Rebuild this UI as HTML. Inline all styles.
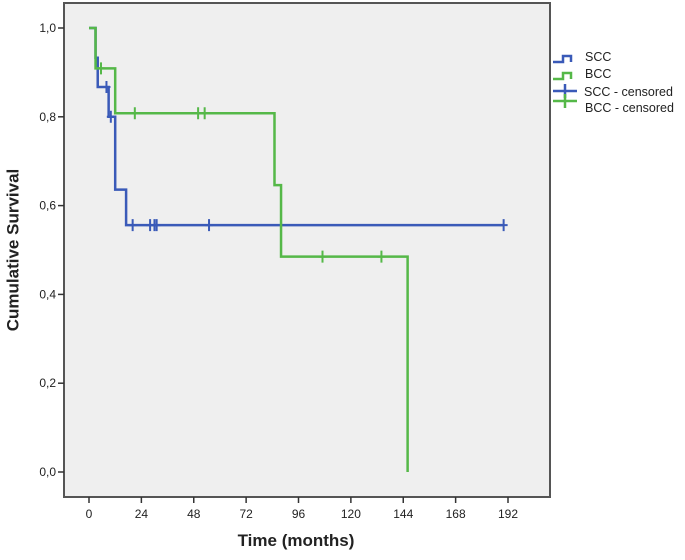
<!DOCTYPE html>
<html><head><meta charset="utf-8"><style>
body{margin:0;background:#fff;}
svg text{font-family:"Liberation Sans",sans-serif;}
</style></head><body>
<svg id="chart" width="685" height="555">
<rect x="64" y="3" width="486" height="494" fill="#efefef" stroke="#555" stroke-width="2"/>
<g id="axes"></g>
<g id="series"></g>
<text x="14" y="250" transform="rotate(-90 14 250)" text-anchor="middle" dominant-baseline="middle" font-size="17" font-weight="bold" fill="#222">Cumulative Survival</text>
<text x="296" y="546" text-anchor="middle" font-size="17" font-weight="bold" fill="#222">Time (months)</text>
<g>
<g><path d="M553,62 h10 v-6 h8 v6" fill="none" stroke="#3a5ab8" stroke-width="2.5"/><text x="585" y="61" font-size="12.5" fill="#222">SCC</text></g>
<g><path d="M553,79 h10 v-6 h8 v6" fill="none" stroke="#55b848" stroke-width="2.5"/><text x="585" y="78" font-size="12.5" fill="#222">BCC</text></g>
<g><path d="M553,91 h24 M565,84 v14" stroke="#3a5ab8" stroke-width="2.5"/><text x="584" y="96" font-size="12.5" fill="#222">SCC - censored</text></g>
<g><path d="M553,101 h24 M565,94 v14" stroke="#55b848" stroke-width="2.5"/><text x="585" y="112" font-size="12.5" fill="#222">BCC - censored</text></g>
</g>
</svg>
<script>
const xTicks=[0,24,48,72,96,120,144,168,192];
const yTicks=[0,0.2,0.4,0.6,0.8,1.0];
const sccTimes=[0,3,4,9,12,17,190];
const sccSurv=[1.0,0.933,0.867,0.8,0.636,0.556,0.556];
const sccCensorT=[8,10,20,28,30,31,55,190];
const sccCensorS=[0.867,0.8,0.556,0.556,0.556,0.556,0.556,0.556];
const bccTimes=[0,3,12,85,88,146];
const bccSurv=[1.0,0.909,0.808,0.646,0.485,0.0];
const bccCensorT=[5.5,21,50,53,107,134];
const bccCensorS=[0.909,0.808,0.808,0.808,0.485,0.485];
const X=t=>89+t*(419/192);
const Y=s=>472-s*444;
const NS="http://www.w3.org/2000/svg";
const ax=document.getElementById('axes'),sg=document.getElementById('series');
function mk(tag,at,parent){const e=document.createElementNS(NS,tag);for(const k in at)e.setAttribute(k,at[k]);parent.appendChild(e);return e;}
xTicks.forEach(t=>{
 const l=mk('line',{x1:X(t),x2:X(t),y1:497,y2:503,stroke:'#333','stroke-width':1.5},ax);
 
 
 const tx=mk('text',{x:X(t),y:518,'text-anchor':'middle','font-size':12,fill:'#222'},ax);tx.textContent=t;
 
 
});
yTicks.forEach(s=>{
 const l=mk('line',{x1:58,x2:64,y1:Y(s),y2:Y(s),stroke:'#333','stroke-width':1.5},ax);
 
 
 const tx=mk('text',{x:56,y:Y(s)+4,'text-anchor':'end','font-size':12,fill:'#222'},ax);tx.textContent=s.toFixed(1).replace('.',',');
 
 
});
function step(times,surv,col,name){
 let d='M'+X(times[0])+','+Y(surv[0]);
 for(let i=1;i<times.length;i++){d+=' H'+X(times[i])+' V'+Y(surv[i]);}
 const p=mk('path',{d:d,fill:'none',stroke:col,'stroke-width':2.5},sg);
 
 
}
function cens(ts,ss,col,name){
 ts.forEach((t,i)=>{
  const p=mk('path',{d:'M'+(X(t)-4)+','+Y(ss[i])+' h8 M'+X(t)+','+(Y(ss[i])-6)+' v12',stroke:col,'stroke-width':2},sg);
  
  
 });
}
step(sccTimes,sccSurv,'#3a5ab8','scc-curve');
cens(sccCensorT,sccCensorS,'#3a5ab8','scc-censor-mark');
step(bccTimes,bccSurv,'#55b848','bcc-curve');
cens(bccCensorT,bccCensorS,'#55b848','bcc-censor-mark');
</script>
</body></html>
